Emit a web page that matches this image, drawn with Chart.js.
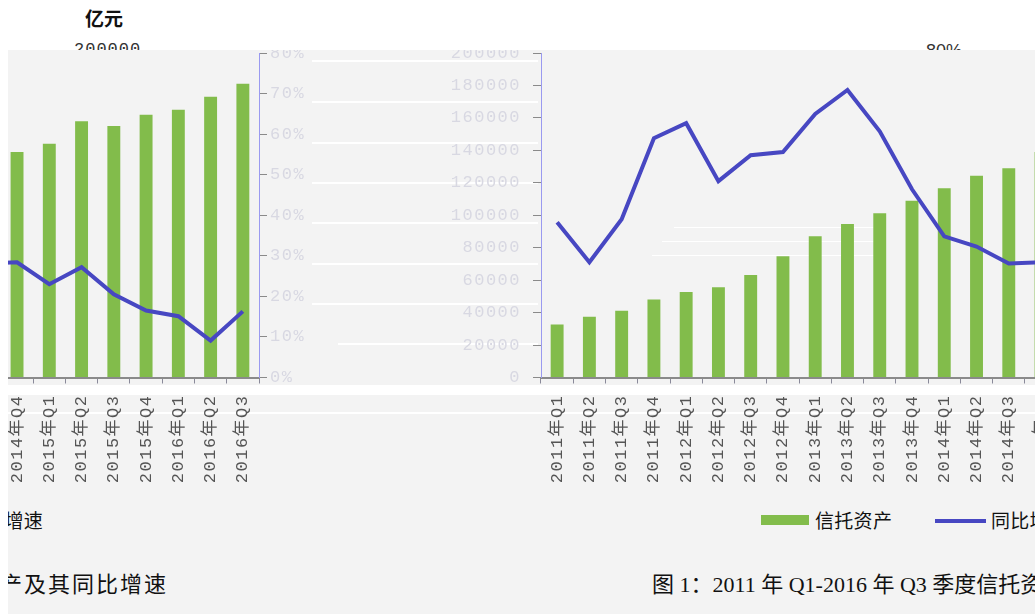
<!DOCTYPE html>
<html><head><meta charset="utf-8">
<script src="https://cdn.jsdelivr.net/npm/chart.js@4.4.0/dist/chart.umd.min.js"></script>
<style>
html,body{margin:0;padding:0;width:1035px;height:614px;overflow:hidden;background:#fff;font-family:"Noto Sans CJK SC",sans-serif;}
.abs{position:absolute;white-space:nowrap;}
#unit{left:85px;top:4px;font-size:19px;font-weight:bold;color:#111;}
#topL{left:74px;top:40px;font-size:17px;color:#333;font-family:"Liberation Mono",monospace;letter-spacing:1px;}
#topR{left:926px;top:41px;font-size:18px;color:#333;font-family:"Liberation Sans",sans-serif;}
#panel{position:absolute;left:8px;top:50px;width:1027px;height:564px;background:#f3f3f3;overflow:hidden;}
.wl{position:absolute;background:#fff;}
canvas{position:absolute;}
.leg{font-size:19px;color:#111;line-height:22px;letter-spacing:0.3px;}
.ttl{font-size:22px;color:#111;line-height:26px;letter-spacing:0px;font-family:"Liberation Serif","Noto Sans CJK SC",serif;}
</style></head>
<body>
<div id="unit" class="abs">亿元</div>
<div id="topL" class="abs">200000</div>
<div id="topR" class="abs">80%</div>
<div id="panel">
  <!-- decorative white stripes seen in the reference (panel coords: page - (8,50)) -->
  <div class="wl" style="left:0;top:335px;width:1027px;height:10px;"></div>
  <div class="wl" style="left:0;top:362px;width:1027px;height:2px;"></div>
  <div class="wl" style="left:304px;top:10px;width:226px;height:2px;"></div>
  <div class="wl" style="left:304px;top:51px;width:226px;height:2px;"></div>
  <div class="wl" style="left:304px;top:92px;width:226px;height:2px;"></div>
  <div class="wl" style="left:304px;top:132px;width:226px;height:2px;"></div>
  <div class="wl" style="left:304px;top:172px;width:226px;height:2px;"></div>
  <div class="wl" style="left:304px;top:213px;width:226px;height:2px;"></div>
  <div class="wl" style="left:304px;top:253px;width:226px;height:2px;"></div>
  <div class="wl" style="left:330px;top:293px;width:200px;height:2px;"></div>
  <div class="wl" style="left:666px;top:177px;width:200px;height:1px;"></div>
  <div class="wl" style="left:654px;top:191px;width:212px;height:1px;"></div>
  <div class="wl" style="left:644px;top:205px;width:222px;height:1px;"></div>

  <canvas id="chartB" width="912" height="500" style="left:-591px;top:-50px;width:912px;height:500px;"></canvas>
  <canvas id="chartA" width="902" height="500" style="left:433px;top:-50px;width:902px;height:500px;"></canvas>

  <!-- legend (right part, and wrapped tail on the left) -->
  <div class="abs" style="left:753px;top:465px;width:48px;height:10px;background:#82bc4b;"></div>
  <div class="abs leg" style="left:807px;top:459px;">信托资产</div>
  <div class="abs" style="left:927px;top:469px;width:51px;height:4px;background:#4747c2;"></div>
  <div class="abs leg" style="left:983px;top:459px;">同比增速</div>
  <div class="abs leg" style="right:992px;top:459px;">同比增速</div>

  <!-- caption (right part, and wrapped tail on the left) -->
  <div class="abs ttl" style="left:644px;top:522px;">图 1：2011 年 Q1-2016 年 Q3 季度信托资产及其同比增速</div>
  <div class="abs ttl" style="right:867px;top:522px;letter-spacing:2px;">图 1：2011 年 Q1-2016 年 Q3 季度信托资产及其同比增速</div>
</div>
<script>
// ---- data ----
const quarters = ['2011年Q1','2011年Q2','2011年Q3','2011年Q4',
  '2012年Q1','2012年Q2','2012年Q3','2012年Q4',
  '2013年Q1','2013年Q2','2013年Q3','2013年Q4',
  '2014年Q1','2014年Q2','2014年Q3','2014年Q4',
  '2015年Q1','2015年Q2','2015年Q3','2015年Q4',
  '2016年Q1','2016年Q2','2016年Q3'];
const trustAssets = [32600, 37500, 41200, 48000, 52700, 55600, 63200, 74700,
  87000, 94600, 101300, 108900, 116700, 124300, 129000, 139000,
  144000, 158000, 155000, 162000, 165000, 173000, 181000];
const yoyGrowth = [38.3, 28.4, 39.0, 59.0, 62.7, 48.4, 54.8, 55.6,
  65.0, 70.9, 60.7, 46.4, 34.8, 32.3, 28.1, 28.4,
  23.0, 27.2, 20.5, 16.5, 15.1, 9.1, 16.3];
const assetTicks = {min: 0, max: 200000, step: 20000};
const pctTicks = {min: 0, max: 80, step: 10};
const seriesNames = ['信托资产', '同比增速'];

const GREEN = '#82bc4b', BLUE = '#4747c2';
const tickFont = {family: '"Liberation Mono", "Noto Sans CJK SC", monospace', size: 17};

// the source chart renders its tick text widely spaced
const spacingPlugin = {
  id: 'wideText',
  beforeLayout(chart) { chart.ctx.letterSpacing = '1.5px'; },
  beforeDraw(chart) { chart.ctx.letterSpacing = '1.5px'; }
};

function makeChart(id, leftW, rightW) {
  return new Chart(document.getElementById(id), {
    type: 'bar',
    plugins: [spacingPlugin],
    data: {
      labels: quarters,
      datasets: [
        {type: 'line', label: seriesNames[1], data: yoyGrowth, yAxisID: 'y1', order: 0,
         borderColor: BLUE, backgroundColor: BLUE, borderWidth: 4, pointRadius: 0, tension: 0, fill: false},
        {type: 'bar', label: seriesNames[0], data: trustAssets, yAxisID: 'y', order: 1,
         backgroundColor: GREEN, borderWidth: 0, barPercentage: 0.4, categoryPercentage: 1}
      ]
    },
    options: {
      responsive: false, animation: false, devicePixelRatio: 1,
      layout: {padding: {top: 53, left: 0, right: 0, bottom: 0}},
      plugins: {legend: {display: false}, tooltip: {enabled: false}, title: {display: false}},
      scales: {
        x: {
          afterFit: s => { s.height = 122.5; },
          grid: {display: true, drawOnChartArea: false, drawTicks: true, tickLength: 6, tickColor: '#8a8a9a', offset: true},
          border: {display: true, color: '#8a8a8a', width: 2},
          ticks: {autoSkip: false, minRotation: 90, maxRotation: 90, padding: 11, color: '#555', font: tickFont}
        },
        y: {
          position: 'left', min: assetTicks.min, max: assetTicks.max,
          afterFit: s => { s.width = leftW; },
          grid: {display: true, drawOnChartArea: false, drawTicks: true, tickLength: 8, tickColor: '#8a8a8a'},
          border: {display: true, color: '#9a9af0', width: 1},
          ticks: {stepSize: assetTicks.step, padding: 12, color: '#d8d8e2', font: tickFont,
                  callback: v => String(v)}
        },
        y1: {
          position: 'right', min: pctTicks.min, max: pctTicks.max,
          afterFit: s => { s.width = rightW; },
          grid: {display: true, drawOnChartArea: false, drawTicks: true, tickLength: 8, tickColor: '#8a8a8a'},
          border: {display: true, color: '#9a9af0', width: 1},
          ticks: {stepSize: pctTicks.step, padding: 3, color: '#d8d8e2', font: tickFont,
                  callback: v => v + '%'}
        }
      }
    }
  });
}
// right-hand view: start of the chart; left-hand view: wrapped end of the same chart
makeChart('chartA', 100, 60);
makeChart('chartB', 100, 70);
</script>
</body></html>
